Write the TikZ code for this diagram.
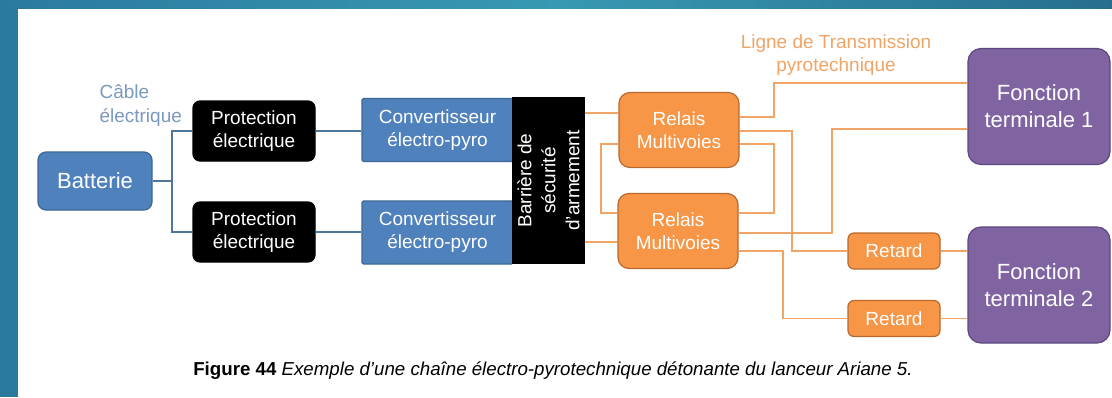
\documentclass[tikz,border=0pt]{standalone}
\usepackage{fontspec}
\setmainfont{Liberation Sans}
\usepackage{tikz}

\definecolor{fond}{HTML}{2B7A9E}
\definecolor{fondclair}{HTML}{3799B3}
\definecolor{bleu}{HTML}{4F81BD}
\definecolor{bleufonce}{HTML}{3A6896}
\definecolor{bleutexte}{HTML}{7B98BF}
\definecolor{orange}{HTML}{F79646}
\definecolor{orangefonce}{HTML}{B9692E}
\definecolor{orangefil}{HTML}{F0A466}
\definecolor{violet}{HTML}{8064A2}
\definecolor{violetfonce}{HTML}{5C4880}

\tikzset{
  boite/.style={draw, line width=1.2pt, text=white, align=center, inner sep=0pt,
    font=\fontsize{19}{23}\selectfont},
  batt/.style={boite, fill=bleu, draw=bleufonce, rounded corners=8pt,
    minimum width=114pt, minimum height=58pt, font=\fontsize{22}{26}\selectfont},
  prot/.style={boite, fill=black, draw=black, rounded corners=7pt,
    minimum width=122pt, minimum height=60pt},
  conv/.style={boite, fill=bleu, draw=bleufonce, rounded corners=1.5pt,
    minimum width=151pt, minimum height=63pt},
  relais/.style={boite, fill=orange, draw=orangefonce, rounded corners=11pt,
    minimum width=120pt, minimum height=75pt},
  retard/.style={boite, fill=orange, draw=orangefonce, rounded corners=6pt,
    minimum width=92pt, minimum height=36pt},
  fonction/.style={boite, fill=violet, draw=violetfonce, rounded corners=13pt,
    minimum width=142pt, minimum height=116pt, font=\fontsize{22}{27}\selectfont},
  fil/.style={draw=bleufonce!90, line width=1.6pt},
  pyro/.style={draw=orangefil, line width=1.8pt}
}

\begin{document}
\begin{tikzpicture}[x=1pt, y=-1pt]
        \useasboundingbox (0,0) rectangle (1112,397);
        \fill [fond] (0,0) rectangle (1112,397);
        \shade [left color=fond, right color=fond!90!black, middle color=fondclair] (0,0) rectangle (1112,9);
        \fill [white] (18,9) rectangle (1112,397);

        \node [batt] (bat) at (95,181) {Batterie};
        \node [prot] (prot1) at (254,131) {Protection\\électrique};
        \node [prot] (prot2) at (254,232) {Protection\\électrique};
        \node [conv] (conv1) at (437.5,130) {Convertisseur\\électro-pyro};
        \node [conv] (conv2) at (437.5,232.5) {Convertisseur\\électro-pyro};
        \node [boite, fill=black, draw=black, rotate=90, minimum width=165pt, minimum height=71pt,
               font=\fontsize{19}{24}\selectfont] (bsa) at (548.5,180.5) {Barrière de\\sécurité\\d'armement};
        \node [relais] (rel1) at (679,130) {Relais\\Multivoies};
        \node [relais] (rel2) at (678,231) {Relais\\Multivoies};
        \node [retard] (ret1) at (894,251) {Retard};
        \node [retard] (ret2) at (894,318.5) {Retard};
        \node [fonction] (ft1) at (1039,106.5) {Fonction\\terminale 1};
        \node [fonction] (ft2) at (1039,285) {Fonction\\terminale 2};

        \node [anchor=west, align=left, text=bleutexte, font=\fontsize{19}{24}\selectfont] (cable) at (96,106) {Câble\\électrique};
        \node [align=center, text=orangefil, font=\fontsize{19}{23}\selectfont] (ligne) at (836,55) {Ligne de Transmission\\pyrotechnique};

        \coordinate (bus) at (172,181);
        \draw [fil] (bat.east) -- (bus);
        \draw [fil] (prot1.west) -| (bus);
        \draw [fil] (prot2.west) -| (bus);
        \draw [fil] (prot1.east) -- (conv1.west |- prot1.east);
        \draw [fil] (prot2.east) -- (conv2.west |- prot2.east);

        \draw [pyro] (bsa.south |- 0,113) -- (rel1.west |- 0,113);
        \draw [pyro] (bsa.south |- 0,242) -- (rel2.west |- 0,242);
        \draw [pyro] (rel1.west |- 0,144) -| (601,213) -- (rel2.west |- 0,213);
        \draw [pyro] (rel1.east |- 0,144) -| (774,213) -- (rel2.east |- 0,213);
        \draw [pyro] (rel1.east |- 0,117) -| (774,83) -- (ft1.west |- 0,83);
        \draw [pyro] (rel1.east |- 0,131) -| (792,251) -- (ret1.west);
        \draw [pyro] (ft1.west |- 0,129) -| (832,233) -- (rel2.east |- 0,233);
        \draw [pyro] (rel2.east |- 0,251) -| (783,318.5) -- (ret2.west);
        \draw [pyro] (ret1.east) -- (ft2.west |- ret1.east);
        \draw [pyro] (ret2.east) -- (ft2.west |- ret2.east);

        \node [font=\fontsize{18.7}{22}\selectfont] (legende) at (553,371)
              {\textbf{Figure 44} \textit{Exemple d’une chaîne électro-pyrotechnique détonante du lanceur Ariane 5.}};
\end{tikzpicture}
\end{document}
